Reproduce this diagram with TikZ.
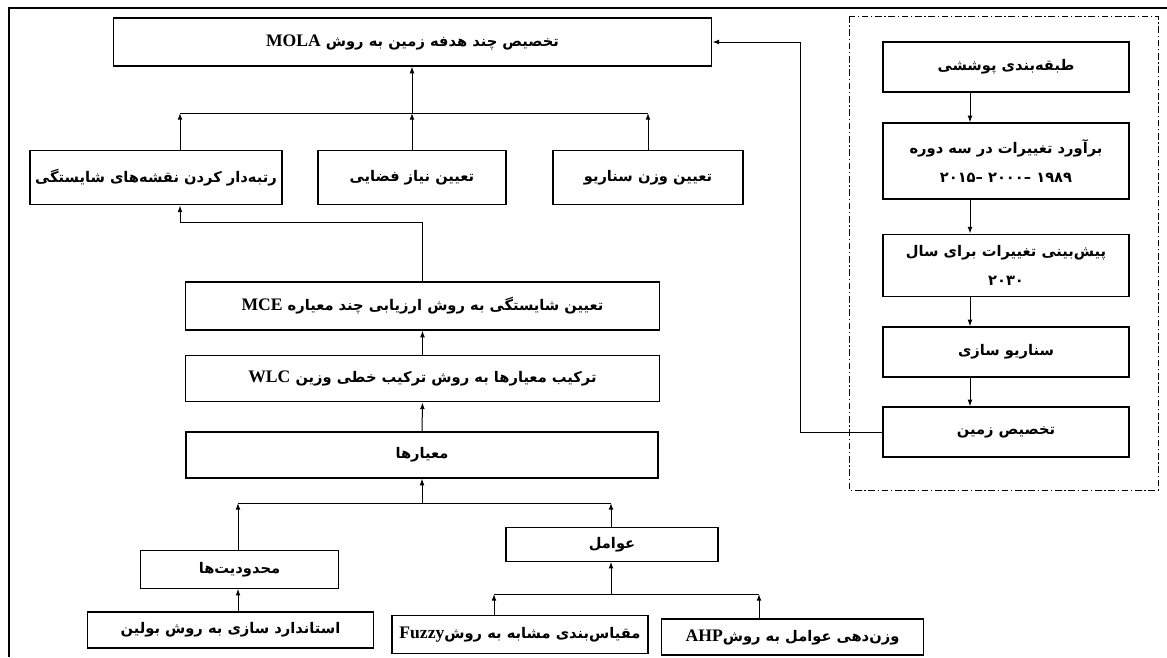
\documentclass[tikz,border=0pt]{standalone}
\usepackage{fontspec}
\setmainfont{Liberation Serif}
\newfontfamily\farsi[Script=Arabic]{DejaVu Sans}
\newfontfamily\latin[Scale=1.2]{Liberation Serif}
\TeXXeTstate=1
\usetikzlibrary{arrows.meta}
\tikzset{
  box/.style={draw, line width=0.9pt, inner sep=2pt, align=center,
    font={\farsi\bfseries\fontsize{11}{17}\selectfont}},
  link/.style={line width=0.75pt},
}
\begin{document}
\begin{tikzpicture}[x=0.75pt,y=-0.75pt,>={Latex[length=5pt,width=3.6pt]}]
\useasboundingbox (0,0) rectangle (1167,657);
% frame
\draw[line width=1.8pt] (9,657) -- (9,8) -- (1167,8);
% left column
\node[box, minimum width=449pt, minimum height=36pt] (mola) at (412.5,42)
  {\beginR تخصیص چند هدفه زمین به روش {\beginL\latin MOLA\endL}\endR};
\node[box, minimum width=189pt, minimum height=41pt] (boxA) at (156,177.5)
  {\beginR رتبه‌دار کردن نقشه‌های شایستگی\endR};
\node[box, minimum width=141pt, minimum height=41pt] (boxB) at (412,177.5)
  {\beginR تعیین نیاز فضایی\endR};
\node[box, minimum width=142.5pt, minimum height=41pt] (boxC) at (648,177.5)
  {\beginR تعیین وزن سناریو\endR};
\node[box, minimum width=356pt, minimum height=36pt] (mce) at (422.5,306)
  {\beginR تعیین شایستگی به روش ارزیابی چند معیاره {\beginL\latin MCE\endL}\endR};
\node[box, minimum width=356pt, minimum height=35pt] (wlc) at (422.5,378.5)
  {\beginR ترکیب معیارها به روش ترکیب خطی وزین {\beginL\latin WLC\endL}\endR};
\node[box, minimum width=354pt, minimum height=34.5pt] (meyar) at (422,455)
  {\beginR معیارها\endR};
\node[box, minimum width=148pt, minimum height=28pt] (mahd) at (239.5,569.5)
  {\beginR محدودیت‌ها\endR};
\node[box, minimum width=214pt, minimum height=27pt] (std) at (230.5,630)
  {\beginR استاندارد سازی به روش بولین\endR};
\node[box, minimum width=159pt, minimum height=25pt] (avamel) at (612,544.5)
  {\beginR عوامل\endR};
\node[box, minimum width=192pt, minimum height=28pt] (fuzzy) at (520,634.5)
  {\beginR مقیاس‌بندی مشابه به روش{\beginL\latin Fuzzy\endL}\endR};
\node[box, minimum width=196pt, minimum height=27pt] (ahp) at (792.5,637)
  {\beginR وزن‌دهی عوامل به روش{\beginL\latin AHP\endL}\endR};
% right column
\node[box, minimum width=184.5pt, minimum height=37.5pt] (tabaghe) at (1006,67)
  {\beginR طبقه‌بندی پوششی\endR};
\node[box, minimum width=184.5pt, minimum height=57pt] (baravord) at (1006,161)
  {\beginR برآورد تغییرات در سه دوره\endR\\[5pt]
   \beginR\hbox{۱۹۸۹ –۲۰۰۰ –۲۰۱۵}\endR};
\node[box, minimum width=184.5pt, minimum height=47pt] (pish) at (1006,265.5)
  {\beginR پیش‌بینی تغییرات برای سال\endR\\[5pt] \beginR ۲۰۳۰\endR};
\node[box, minimum width=184.5pt, minimum height=37.5pt] (senario) at (1006,352)
  {\beginR سناریو سازی\endR};
\node[box, minimum width=184.5pt, minimum height=37.5pt] (takhsis) at (1006,432)
  {\beginR تخصیص زمین\endR};
\draw[dash pattern=on 5pt off 2pt on 1pt off 2pt, line width=0.6pt]
  (849,16) rectangle (1158,490);
% connectors, top part
\coordinate (jA) at (180,113);
\coordinate (jB) at (412,113);
\coordinate (jC) at (648,113);
\draw[link] (jA) -- (jC);
\draw[link,->] (boxA.north -| jA) -- (jA);
\draw[link,->] (boxB.north) -- (jB);
\draw[link,->] (boxC.north) -- (jC);
\draw[link,->] (jB) -- (mola.south -| jB);
\coordinate (kA) at (180,222);
\draw[link,->] (mce.north) |- (kA) -- (boxA.south -| kA);
\draw[link,->] (wlc.north) -- (mce.south);
\draw[link,->] (meyar.north) -- (wlc.south);
% connectors, bottom part
\coordinate (jL) at (238,503);
\coordinate (jR) at (611,503);
\coordinate (jM) at (422,503);
\draw[link] (jL) -- (jR);
\draw[link,->] (mahd.north -| jL) -- (jL);
\draw[link,->] (avamel.north -| jR) -- (jR);
\draw[link,->] (jM) -- (meyar.south -| jM);
\draw[link,->] (std.north -| jL) -- (mahd.south -| jL);
\coordinate (jF) at (494,594);
\coordinate (jH) at (759,594);
\coordinate (jV) at (611,594);
\draw[link] (jF) -- (jH);
\draw[link,->] (fuzzy.north -| jF) -- (jF);
\draw[link,->] (ahp.north -| jH) -- (jH);
\draw[link,->] (jV) -- (avamel.south -| jV);
% right column links
\coordinate (rx) at (970,0);
\foreach \a/\b in {tabaghe/baravord, baravord/pish, pish/senario, senario/takhsis}
  \draw[link,->] (\a.south -| rx) -- (\b.north -| rx);
\coordinate (tx) at (800,0);
\draw[link,->] (takhsis.west) -- (takhsis.west -| tx) |- (mola.east);
\end{tikzpicture}
\end{document}
